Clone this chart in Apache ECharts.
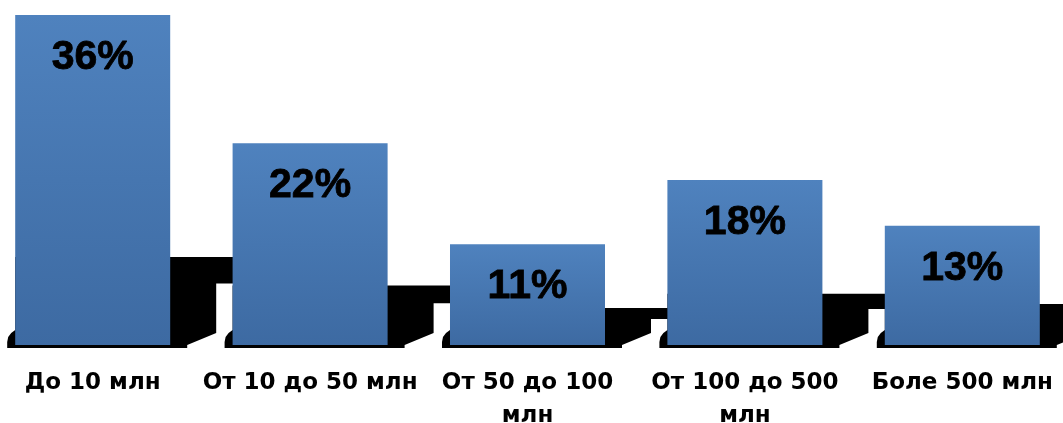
<!DOCTYPE html>
<html>
<head>
<meta charset="utf-8">
<script src="https://cdn.jsdelivr.net/npm/echarts@6/dist/echarts.min.js"></script>
<style>
html,body{margin:0;padding:0;background:#fff;}
#chart{width:1063px;height:423px;}
</style>
</head>
<body>
<div id="chart"></div>
<script>
var categories = ["До 10 млн", "От 10 до 50 млн", "От 50 до 100 млн", "От 100 до 500 млн", "Боле 500 млн"];
var shares = [36, 22, 11, 18, 13];

var chart = echarts.init(document.getElementById('chart'));

function shadowItem(params, api) {
  var v = api.value(1);
  var top = api.coord([api.value(0), v]);
  var base = api.coord([api.value(0), 0]);
  var bw = api.size([1, 0])[0] * 0.713;
  var xl = top[0] - bw / 2, xr = top[0] + bw / 2, y0 = base[1];
  var barH = y0 - top[1];
  var h = 0.2225 * barH + 14.6;
  var n = h * 0.7;
  var g = 62;
  var pts = [
    [xl, y0 - 15],
    [xl, y0 - h],
    [xr + g + 8, y0 - h],
    [xr + g + 8, y0 - n],
    [xr + g - 16, y0 - n],
    [xr + g - 16, y0 - 12],
    [xr + 17, y0],
    [xr + 17, y0 + 3],
    [xl - 8, y0 + 3],
    [xl - 8, y0 - 3],
    [xl - 7, y0 - 8],
    [xl - 4, y0 - 12]
  ];
  return {
    type: 'polygon',
    shape: { points: pts },
    style: { fill: '#000' }
  };
}

chart.setOption({
  animation: false,
  grid: { left: -16, right: -8, top: 15, bottom: 78, containLabel: false, outerBoundsMode: 'none' },
  xAxis: {
    type: 'category',
    data: categories,
    axisLine: { show: false },
    axisTick: { show: false },
    axisLabel: {
      color: '#000',
      fontFamily: 'DejaVu Sans',
      fontWeight: 'bold',
      fontSize: 23,
      margin: 22,
      lineHeight: 33,
      interval: 0,
      formatter: function (v) { return v.length > 15 ? v.replace(/ млн$/, '\nмлн') : v; }
    }
  },
  yAxis: { type: 'value', min: 0, max: 36, show: false, splitLine: { show: false } },
  series: [
    {
      type: 'custom',
      renderItem: shadowItem,
      data: shares.map(function (v, i) { return [i, v]; }),
      z: 1,
      silent: true
    },
    {
      type: 'bar',
      data: shares,
      barWidth: '71.3%',
      z: 2,
      itemStyle: {
        color: new echarts.graphic.LinearGradient(0, 0, 0, 1, [
          { offset: 0, color: '#4f82be' },
          { offset: 1, color: '#3d6aa2' }
        ])
      },
      label: {
        show: true,
        position: 'insideTop',
        distance: 22,
        formatter: '{c}%',
        color: '#000',
        fontFamily: 'Liberation Sans',
        fontWeight: 'bold',
        fontSize: 41,
        textBorderColor: '#000',
        textBorderWidth: 0.8
      }
    }
  ]
});
</script>
</body>
</html>
